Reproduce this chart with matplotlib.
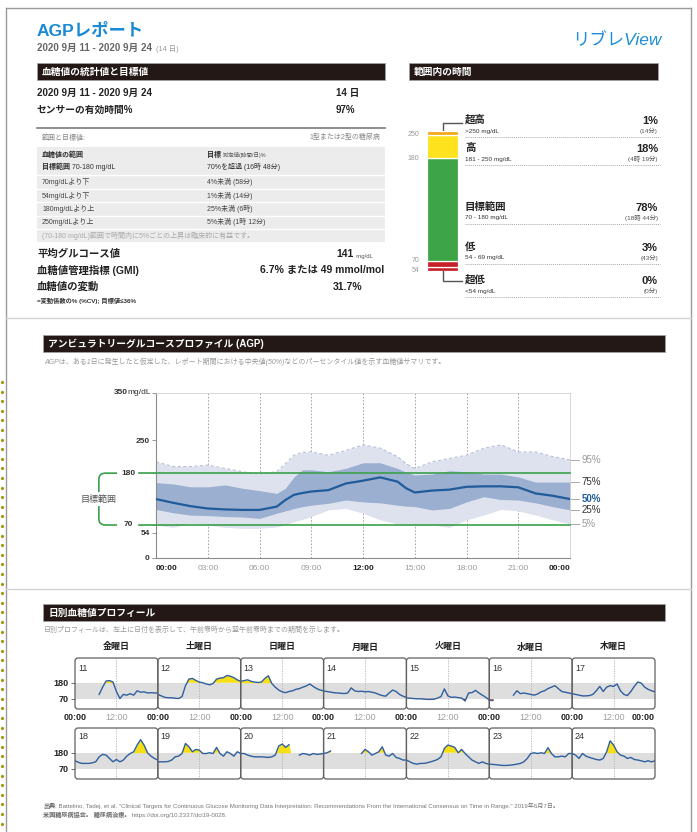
import numpy as np
import matplotlib
matplotlib.use('Agg')
import matplotlib.pyplot as plt
import matplotlib.transforms as mtransforms
from matplotlib.patches import Rectangle, FancyBboxPatch, PathPatch
from matplotlib.path import Path

plt.rcParams['font.family'] = ['Liberation Sans', 'Noto Sans CJK JP', 'DejaVu Sans']

nan = np.nan

# ---------------- data ----------------
period = '2020 9月 11 - 2020 9月 24'
n_days = '14 日'
sensor_pct = '97%'
mean_glucose = '141'
gmi = '6.7% または 49 mmol/mol'
cv = '31.7%'

target_rows = [('70mg/dLより下', '4%未満 (58分)'),
               ('54mg/dLより下', '1%未満 (14分)'),
               ('180mg/dLより上', '25%未満 (6時)'),
               ('250mg/dLより上', '5%未満 (1時 12分)')]

# time in range, low -> high
tir_names = ['超低', '低', '目標範囲', '高', '超高']
tir_ranges = ['<54 mg/dL', '54 - 69 mg/dL', '70 - 180 mg/dL', '181 - 250 mg/dL', '>250 mg/dL']
tir_pct = [0, 3, 78, 18, 1]
tir_time = ['(0分)', '(43分)', '(18時 44分)', '(4時 19分)', '(14分)']
tir_colors = ['#c8202a', '#c8202a', '#3da447', '#fde21d', '#f5a71b']
tir_bounds = ['54', '70', '180', '250']

# AGP percentiles (mg/dL)
agp_hours = [0, 1, 2, 3, 4, 5, 6, 7, 7.5, 8, 8.5, 9, 10, 11, 12, 13, 14, 14.5, 15,
             16, 17, 18, 19, 20, 21, 22, 23, 24]
agp_p95 = [204, 194, 194, 197, 190, 183, 178, 183, 200, 218, 224, 225, 218, 228, 240, 233,
           215, 200, 190, 204, 211, 218, 233, 240, 225, 225, 215, 208]
agp_p75 = [160, 157, 151, 151, 155, 148, 143, 137, 148, 172, 187, 187, 183, 190, 202, 202,
           190, 182, 176, 178, 185, 183, 178, 178, 172, 161, 161, 161]
agp_p50 = [125, 117, 110, 105, 103, 102, 102, 109, 123, 134, 138, 141, 144, 158, 164, 171,
           162, 148, 139, 143, 145, 151, 152, 152, 150, 137, 132, 125]
agp_p25 = [103, 96, 91, 90, 88, 87, 84, 95, 100, 105, 109, 112, 116, 123, 119, 117,
           112, 110, 109, 102, 105, 119, 130, 124, 123, 117, 109, 102]
agp_p5 = [70, 65, 74, 70, 65, 63, 63, 66, 70, 77, 82, 88, 102, 105, 95, 81,
          72, 70, 70, 70, 65, 81, 91, 103, 100, 91, 81, 72]
agp_xticks = ['00:00', '03:00', '06:00', '09:00', '12:00', '15:00', '18:00', '21:00', '00:00']
agp_yticks = [0, 54, 70, 180, 250, 350]

# daily profiles, hourly values 00:00 .. 24:00
weekdays = ['金曜日', '土曜日', '日曜日', '月曜日', '火曜日', '水曜日', '木曜日']
day_numbers = list(range(11, 25))
day_hours = list(range(25))
d11 = [nan, nan, nan, nan, nan, nan, nan, 100, 150, 192, 195, 185, 120, 72, 100, 95, 105, 95,
       125, 115, 118, 110, 112, 110, 110]
d12 = [100, 90, 80, 77, 77, 74, 72, 85, 160, 205, 210, 196, 185, 180, 172, 166, 175, 205,
       212, 215, 230, 225, 215, 200, 190]
d13 = [190, 195, 200, 190, 185, 182, 185, 210, 228, 175, 150, 130, 118, 112, 120, 125, 135, 140,
       150, 158, 172, 155, 140, 130, 125]
d14 = [123, 120, 116, 112, 110, 108, 106, 110, 145, 125, 120, 122, 118, 120, 115, 110, 100, 92,
       88, 110, 130, 120, 100, 88, 80]
d15 = [77, 74, 72, 70, 70, 68, 66, 66, 67, 75, 85, 138, 90, 80, 82, 78, 75, 55,
       110, 112, 128, 110, 95, 80, 62]
d16 = [60, 58, nan, nan, nan, nan, nan, 95, 125, 105, 110, 105, 100, 95, 103, 118, 125, 140,
       150, 160, 140, 120, 115, 110, 105]
d17 = [105, 100, 95, 90, 90, 92, 100, 125, 155, 120, 150, 160, 155, 172, 125, 100, 92, 120,
       155, 185, 178, 150, 135, 125, 118]
d18 = [125, 114, 107, 107, 107, 111, 118, 152, 169, 164, 141, 118, 134, 118, 130, 157, 175, 187,
       233, 270, 233, 180, 157, 141, 130]
d19 = [118, 118, 118, 120, 130, 152, 157, 175, 244, 221, 187, 203, 198, 175, 175, 180, 175, 217,
       175, 157, 187, 175, 157, 187, 175]
d20 = [175, 175, 164, 157, 152, 152, 152, 150, 148, 152, 164, 226, 240, 217, 235, nan, nan, 164,
       175, 171, 164, 175, 169, 171, 175]
d21 = [175, 180, 192, nan, nan, nan, nan, nan, nan, nan, nan, 175, 203, 187, 164, 175, 187, 221,
       164, 157, 175, 148, 141, 130, 130]
d22 = [130, 118, 107, 102, 107, 107, 111, 118, 125, 134, 152, 210, 233, 226, 217, 180, 203, 175,
       152, 130, 118, 107, 118, 107, 102]
d23 = [102, 100, 98, 95, 93, 93, 95, 98, 102, 107, 118, 141, 175, 180, 175, 180, 175, 215,
       175, 152, 152, 157, 152, 175, 175]
d24 = [175, 164, 141, 175, 157, 148, 141, 134, 130, 141, 187, 262, 233, 187, 164, 157, 141, 148,
       134, 130, 125, 118, 125, 118, 125]
daily = [d11, d12, d13, d14, d15, d16, d17, d18, d19, d20, d21, d22, d23, d24]

# ---------------- figure ----------------
W, H = 697, 832
fig = plt.figure(figsize=(W / 100, H / 100), dpi=100)
bg = fig.add_axes([0, 0, 1, 1])
bg.set_xlim(0, W)
bg.set_ylim(H, 0)
bg.axis('off')


def box(x, y, w, h):
    return [x / W, 1 - (y + h) / H, w / W, h / H]


def t(x, y, s, size=7, **kw):
    kw.setdefault('va', 'center')
    return bg.text(x, y, s, fontsize=size, **kw)


def after(prev, s, size, **kw):
    return bg.annotate(s, xy=(1, 0), xycoords=prev, va='bottom', ha='left', fontsize=size, **kw)


def section(x0, x1, y0, y1, title):
    bg.add_patch(Rectangle((x0, y0), x1 - x0, y1 - y0, facecolor='#231815',
                           edgecolor='#a0a0a0', lw=0.6))
    t(x0 + 5, (y0 + y1) / 2 + 0.5, title, 7, color='white', fontweight='bold')


# page frame and scan artefacts
bg.plot([6, 691], [8, 8], color='#9a9a9a', lw=1)
bg.plot([6, 6], [8, 832], color='#9a9a9a', lw=1)
bg.plot([691, 691], [8, 832], color='#9a9a9a', lw=1)
bg.plot([6, 691], [318, 318], color='#d4d4d4', lw=1)
bg.plot([6, 691], [589, 589], color='#d4d4d4', lw=1)
dots = np.arange(382, 832, 9.6)
bg.plot(np.full(len(dots), 1.6), dots, ls='none', marker='o', ms=2.3, color='#9c9a0c', mew=0)

# header
t(37, 31, 'AGPレポート', 12.5, color='#1a8ad4', fontweight='bold')
p = t(37, 48, period, 7, color='#666666', fontweight='bold')
after(p, '  (14 日)', 5.3, color='#999999')
t(662, 40, 'リブレView', 12.5, color='#1e8fd6', style='italic', ha='right')

# ---- stats section ----
section(37, 385, 63, 80, '血糖値の統計値と目標値')
t(37, 93, period, 7, fontweight='bold', color='#222222')
t(336, 93, n_days, 7, fontweight='bold', color='#222222')
t(37, 110, 'センサーの有効時間%', 7, fontweight='bold', color='#222222')
t(336, 110, sensor_pct, 7, fontweight='bold', color='#222222')
bg.plot([37, 385], [128, 128], color='#7a7a7a', lw=1.2)
t(42, 138, '範囲と目標値:', 5, color='#888888')
t(380, 138, '1型または2型の糖尿病', 5, color='#888888', ha='right')
bg.add_patch(Rectangle((37, 147), 348, 95, facecolor='#ececec', lw=0))
for yy in [175, 189, 202, 216, 229]:
    bg.plot([37, 385], [yy, yy], color='white', lw=1)
t(42, 155, '血糖値の範囲', 5, fontweight='bold', color='#333333')
p = t(42, 167, '目標範囲', 5, fontweight='bold', color='#333333')
after(p, ' 70-180 mg/dL', 5, color='#333333')
p = t(207, 155, '目標', 5, fontweight='bold', color='#333333')
after(p, ' 測定値(時間/日)%', 4, color='#555555')
t(207, 167, '70%を超過 (16時 48分)', 5, color='#333333')
for k, (a, b) in enumerate(target_rows):
    yy = [182, 196, 209, 222][k]
    t(42, yy, a, 5, color='#444444')
    t(207, yy, b, 5, color='#444444')
t(42, 235.5, '(70-180 mg/dL)範囲で時間内に5%ごとの上昇は臨床的に有益です。', 5, color='#aaaaaa')
t(37, 254, '平均グルコース値', 7.5, fontweight='bold', color='#222222')
p = t(336, 254, mean_glucose, 7.5, fontweight='bold', color='#222222')
after(p, '  mg/dL', 4.3, color='#555555')
t(37, 270, '血糖値管理指標 (GMI)', 7.5, fontweight='bold', color='#222222')
t(384, 270, gmi, 7.5, fontweight='bold', color='#222222', ha='right')
t(37, 287, '血糖値の変動', 7.5, fontweight='bold', color='#222222')
t(333, 287, cv, 7.5, fontweight='bold', color='#222222')
t(37, 301, '=変動係数の% (%CV); 目標値≤36%', 4.5, fontweight='bold', color='#333333')

# ---- time in range ----
section(409, 658, 63, 80, '範囲内の時間')
ax_t = fig.add_axes(box(427, 131, 31, 140))
shown = np.maximum(tir_pct, [3, 5, 0, 0, 3])
bottoms = np.concatenate([[0], np.cumsum(shown)[:-1]])
ax_t.bar(0, shown, bottom=bottoms, width=1, color=tir_colors, edgecolor='white', linewidth=0.9)
ax_t.set_xlim(-0.5, 0.5)
ax_t.set_ylim(0, shown.sum())
ax_t.axis('off')
bound_pos = [bottoms[0], bottoms[2], bottoms[3], bottoms[4]]
for lab, pos in zip(tir_bounds, bound_pos):
    ax_t.text(-0.75, pos, lab, ha='right', va='center', fontsize=5, color='#999999',
              clip_on=False)
bg.plot([443, 443, 462], [131, 123, 123], color='#555555', lw=1)
bg.plot([443, 443, 462], [271, 281, 281], color='#555555', lw=1)
label_y = [280, 247, 207, 148, 120]
for k in range(5):
    yy = label_y[k]
    t(465, yy, tir_names[k], 7.5, fontweight='bold', color='#222222')
    t(465, yy + 11, tir_ranges[k], 4.6, color='#333333')
    t(658, yy + 1, f'{tir_pct[k]}%', 8, fontweight='bold', color='#222222', ha='right')
    t(658, yy + 11, tir_time[k], 4.6, color='#555555', ha='right')
    bg.plot([465, 660], [yy + 17, yy + 17], color='#aaaaaa', lw=0.7, ls=(0, (1, 1)))

# ---- AGP ----
section(43, 665, 335, 352, 'アンビュラトリーグルコースプロファイル (AGP)')
t(44, 362, 'AGPは、ある1日に発生したと仮定した、レポート期間における中央値(50%)などのパーセンタイル値を示す血糖値サマリです。',
  5, color='#999999', style='italic')

ax = fig.add_axes(box(156, 393, 414, 165))
ax.set_xlim(0, 24)
ax.set_ylim(0, 350)
for hh in range(3, 24, 3):
    ax.axvline(hh, color='#9a9a9a', lw=0.6, ls=(0, (2, 2)), zorder=0)
ax.fill_between(agp_hours, agp_p5, agp_p95, color='#dde2ee', lw=0, zorder=1)
ax.plot(agp_hours, agp_p95, color='#b9c1d6', lw=0.8, ls=(0, (3, 2)), zorder=1.5)
ax.fill_between(agp_hours, agp_p25, agp_p75, color='#9bafd0', lw=0, zorder=2)
ax.plot(agp_hours, agp_p50, color='#1f5c99', lw=1.6, zorder=3)
green = '#3aa14a'
tr = mtransforms.blended_transform_factory(ax.transAxes, ax.transData)
for v in [180, 70]:
    ax.axhline(v, xmin=-0.04, xmax=1, color=green, lw=1.2, clip_on=False, zorder=4)
    ax.text(-0.066, v, str(v), transform=tr, ha='center', va='center', fontsize=6,
            fontweight='bold', color='#333333', clip_on=False)
x0, x1, rx, ry = -0.138, -0.094, 0.016, 13
verts = [(x1, 180), (x0 + rx, 180), (x0, 180), (x0, 180 - ry), (x0, 70 + ry), (x0, 70),
         (x0 + rx, 70), (x1, 70)]
codes = [Path.MOVETO, Path.LINETO, Path.CURVE3, Path.CURVE3, Path.LINETO, Path.CURVE3,
         Path.CURVE3, Path.LINETO]
ax.add_patch(PathPatch(Path(verts, codes), transform=tr, fill=False, edgecolor=green, lw=1.2,
                       clip_on=False))
ax.text(x0, 125, '目標範囲', transform=tr, ha='center', va='center', fontsize=6.5, color='#555555',
        bbox=dict(facecolor='white', edgecolor='none', pad=1.5), clip_on=False)

ax.set_yticks(agp_yticks)
ax.set_yticklabels([str(v) if v not in (70, 180, 350) else '' for v in agp_yticks])
ax.tick_params(axis='y', length=3, width=0.6, color='#888888', pad=1.5, labelsize=6,
               labelcolor='#333333')
for lab in ax.get_yticklabels():
    lab.set_fontweight('bold')
mg = ax.text(-0.012, 350, 'mg/dL', transform=tr, ha='right', va='center', fontsize=6,
             color='#333333', clip_on=False)
ax.annotate('350', xy=(0, 0.5), xycoords=mg, ha='right', va='center', fontsize=6,
            fontweight='bold', color='#333333')
ax.set_xticks(range(0, 25, 3))
ax.set_xticklabels(agp_xticks)
ax.tick_params(axis='x', length=0, pad=5, labelsize=6)
for k, lab in enumerate(ax.get_xticklabels()):
    if k in (0, 4, 8):
        lab.set_fontweight('bold')
        lab.set_color('#222222')
    else:
        lab.set_color('#9a9a9a')
ax.get_xticklabels()[0].set_ha('left')
ax.get_xticklabels()[-1].set_ha('right')
for s in ['left', 'bottom']:
    ax.spines[s].set_color('#8a8a8a')
    ax.spines[s].set_linewidth(0.8)
for s in ['top', 'right']:
    ax.spines[s].set_color('#d0d0d0')
    ax.spines[s].set_linewidth(0.6)

pct_labels = [('95%', agp_p95[-1], '#9a9a9a', 'normal'),
              ('75%', agp_p75[-1], '#333333', 'normal'),
              ('50%', agp_p50[-1], '#1f5c99', 'bold'),
              ('25%', agp_p25[-1], '#333333', 'normal'),
              ('5%', agp_p5[-1], '#9a9a9a', 'normal')]
for s, v, c, fw in pct_labels:
    ax.plot([1.0, 1.022], [v, v], transform=tr, color='#9a9a9a', lw=0.6, clip_on=False)
    ax.text(1.028, v, s, transform=tr, ha='left', va='center', fontsize=7, color=c,
            fontweight=fw, clip_on=False)

# ---- daily profiles ----
section(43, 665, 604, 621, '日別血糖値プロフィール')
t(44, 630, '日別プロフィールは、左上に日付を表示して、午前零時から翌午前零時までの期間を示します。',
  5, color='#999999', style='italic')

px0 = 75
pw = (655 - 75) / 7
row_top = [658, 728]
ph = 51
for r in range(2):
    for c in range(7):
        i = r * 7 + c
        a = fig.add_axes(box(px0 + c * pw, row_top[r], pw, ph))
        a.set_xlim(0, 24)
        a.set_ylim(0, 350)
        a.axhspan(70, 180, color='#dedede', lw=0, zorder=0)
        a.axvline(12, color='#b0b0b0', lw=0.6, ls=(0, (1.5, 1.5)), zorder=0.5)
        y = np.array(daily[i], dtype=float)
        yy = np.nan_to_num(y, nan=120)
        a.fill_between(day_hours, yy, 180, where=(y > 180), interpolate=True,
                       color='#f7df16', lw=0, zorder=1)
        a.fill_between(day_hours, yy, 70, where=(y < 70), interpolate=True,
                       color='#d12a2a', lw=0, zorder=1)
        a.plot(day_hours, y, color='#2f5f9e', lw=1, zorder=2)
        for s in a.spines.values():
            s.set_visible(False)
        a.text(0.035, 0.8 if r == 0 else 0.84, str(day_numbers[i]), transform=a.transAxes,
               fontsize=6.5, color='#333333', va='center')
        if c == 0:
            a.set_yticks([70, 180])
            a.set_yticklabels(['70', '180'], fontweight='bold')
            a.tick_params(axis='y', length=3, width=0.6, color='#555555', pad=1.5,
                          labelsize=6.5, labelcolor='#222222')
        else:
            a.set_yticks([])
        if r == 0:
            ticks = [0, 12, 24] if c == 6 else [0, 12]
            a.set_xticks(ticks)
            a.set_xticklabels(['00:00', '12:00', '00:00'][:len(ticks)])
            a.tick_params(axis='x', length=0, pad=3, labelsize=6.5)
            labs = a.get_xticklabels()
            for k, lab in enumerate(labs):
                if k == 1:
                    lab.set_color('#a0a0a0')
                else:
                    lab.set_fontweight('bold')
                    lab.set_color('#222222')
            if c == 6:
                labs[-1].set_ha('right')
        else:
            a.set_xticks([])

for c in range(7):
    t(px0 + (c + 0.5) * pw, 647, weekdays[c], 6.5, fontweight='bold', color='#222222', ha='center')

top = fig.add_axes([0, 0, 1, 1])
top.set_xlim(0, W)
top.set_ylim(H, 0)
top.axis('off')
top.patch.set_alpha(0)
for r in range(2):
    for c in range(7):
        top.add_patch(FancyBboxPatch((px0 + c * pw, row_top[r]), pw, ph,
                                     boxstyle='round,pad=0,rounding_size=3', fill=False,
                                     edgecolor='#606060', lw=0.9))

# footer
p = t(43, 806, '出典', 4.4, fontweight='bold', color='#666666')
after(p, ': Battelino, Tadej, et al. "Clinical Targets for Continuous Glucose Monitoring Data '
         'Interpretation: Recommendations From the International Consensus on Time in Range." '
         '2019年6月7日。', 4.4, color='#777777')
p = t(43, 815, '米国糖尿病協会。 糖尿病治療。', 4.4, fontweight='bold', color='#666666')
after(p, ' https://doi.org/10.2337/dci19-0028.', 4.4, color='#777777')

fig.savefig('out.png', dpi=100)
